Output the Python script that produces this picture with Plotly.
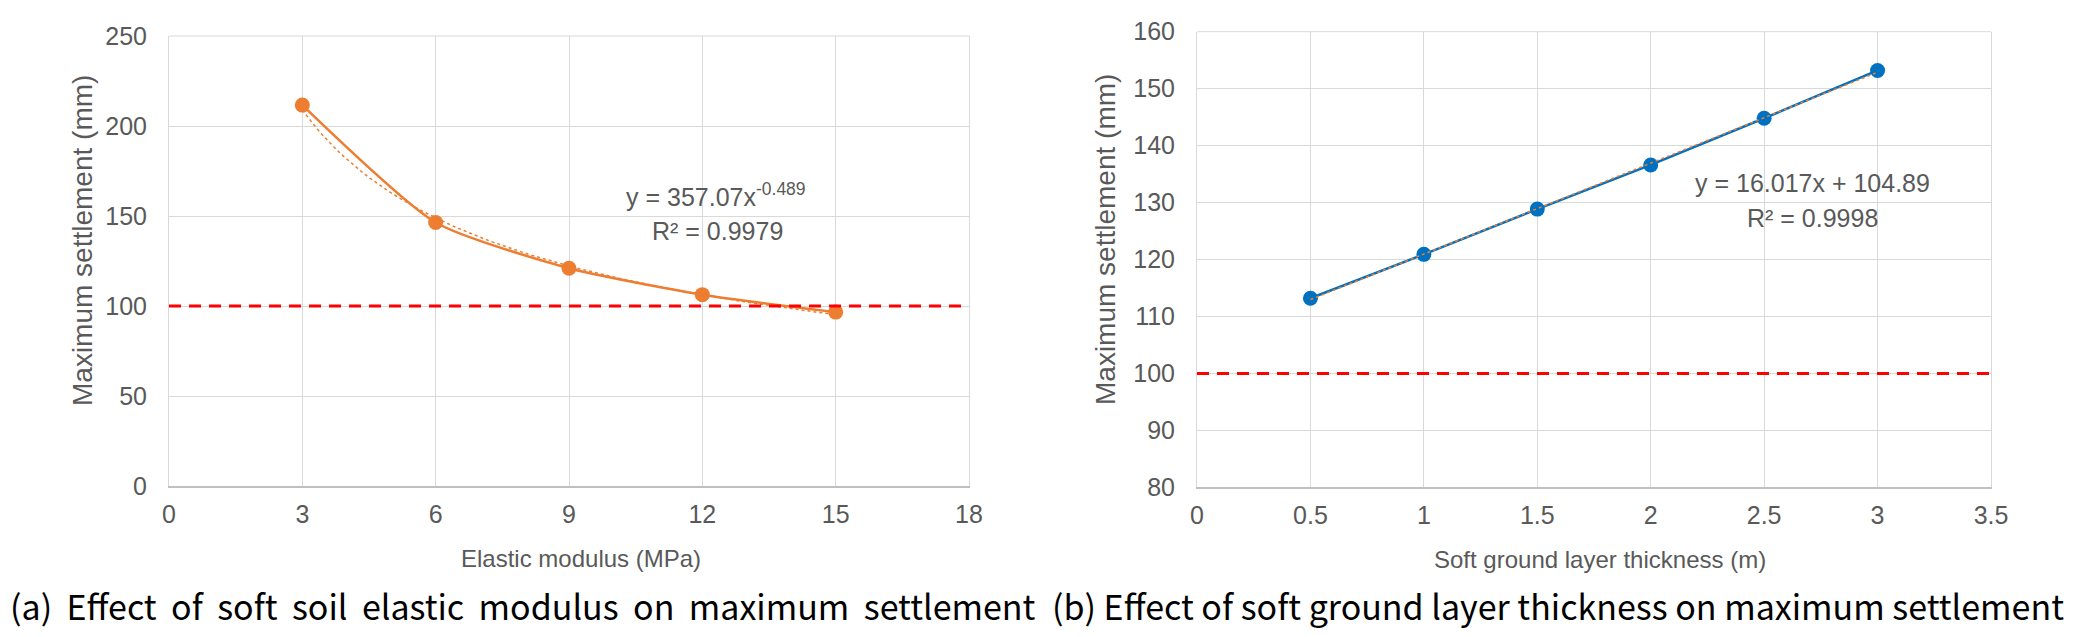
import numpy as np
import plotly.graph_objects as go

# ---------------- data ----------------
modulus_mpa = [3, 6, 9, 12, 15]
settle_a_mm = [211.6, 146.4, 121.0, 106.3, 96.6]

thickness_m = [0.5, 1.0, 1.5, 2.0, 2.5, 3.0]
settle_b_mm = [113.2, 120.9, 128.85, 136.6, 144.8, 153.2]

limit_mm = 100

eq_a = "y = 357.07x<sup>-0.489</sup>"
r2_a = "R² = 0.9979"
eq_b = "y = 16.017x + 104.89"
r2_b = "R² = 0.9998"

caption_a = "(a) Effect of soft soil elastic modulus on maximum settlement"
caption_b = "(b) Effect of soft ground layer thickness on maximum settlement"

ORANGE = "#ED7D31"
BLUE = "#0070C0"
GRAY_TXT = "#595959"
GRID = "#D9D9D9"
AXLINE = "#BFBFBF"
TICKFONT = dict(family="Liberation Sans, Arial, sans-serif", size=25, color=GRAY_TXT)

W, H = 2076, 637

# trendlines fitted from the data
xa = np.array(modulus_mpa, float)
ya = np.array(settle_a_mm, float)
pa = np.polyfit(np.log(xa), np.log(ya), 1)
xa_fit = np.linspace(xa.min(), xa.max(), 80)
ya_fit = np.exp(pa[1]) * xa_fit ** pa[0]

xb = np.array(thickness_m, float)
yb = np.array(settle_b_mm, float)
pb = np.polyfit(xb, yb, 1)
xb_fit = np.array([xb.min(), xb.max()])
yb_fit = np.polyval(pb, xb_fit)

fig = go.Figure()

# ---- panel (a)
fig.add_trace(go.Scatter(x=modulus_mpa, y=settle_a_mm, mode="lines+markers",
                         line=dict(color=ORANGE, width=2.5, shape="spline", smoothing=0.6),
                         marker=dict(color=ORANGE, size=15), xaxis="x", yaxis="y",
                         showlegend=False, hoverinfo="skip"))
fig.add_trace(go.Scatter(x=xa_fit, y=ya_fit, mode="lines",
                         line=dict(color=ORANGE, width=1.5, dash="dot"),
                         xaxis="x", yaxis="y", showlegend=False, hoverinfo="skip"))
fig.add_trace(go.Scatter(x=[0, 18], y=[limit_mm, limit_mm], mode="lines",
                         line=dict(color="#FF0000", width=3, dash="12px,8px"),
                         xaxis="x", yaxis="y", showlegend=False, hoverinfo="skip"))

# ---- panel (b)
fig.add_trace(go.Scatter(x=thickness_m, y=settle_b_mm, mode="lines+markers",
                         line=dict(color=BLUE, width=2.5),
                         marker=dict(color=BLUE, size=15), xaxis="x2", yaxis="y2",
                         showlegend=False, hoverinfo="skip"))
fig.add_trace(go.Scatter(x=xb_fit, y=yb_fit, mode="lines",
                         line=dict(color=ORANGE, width=1.5, dash="dot"),
                         xaxis="x2", yaxis="y2", showlegend=False, hoverinfo="skip"))
fig.add_trace(go.Scatter(x=[0, 3.5], y=[limit_mm, limit_mm], mode="lines",
                         line=dict(color="#FF0000", width=3, dash="12px,8px"),
                         xaxis="x2", yaxis="y2", showlegend=False, hoverinfo="skip"))

def xax(domain, rng, dtick, anchor):
    return dict(domain=domain, range=rng, dtick=dtick, tick0=0, anchor=anchor,
                showgrid=True, gridcolor=GRID, gridwidth=1, zeroline=False,
                showline=True, linecolor=AXLINE, linewidth=1.5, mirror=False,
                ticks="", tickfont=TICKFONT, ticklabelstandoff=5, fixedrange=True,
                automargin=False)

def yax(domain, rng, dtick, anchor):
    return dict(domain=domain, range=rng, dtick=dtick, tick0=0, anchor=anchor,
                showgrid=True, gridcolor=GRID, gridwidth=1, zeroline=False,
                showline=True, linecolor=GRID, linewidth=1, mirror=True,
                ticks="", tickfont=TICKFONT, ticklabelstandoff=16, fixedrange=True,
                automargin=False)

fig.update_layout(
    width=W, height=H, margin=dict(l=0, r=0, t=0, b=0, pad=0, autoexpand=False),
    paper_bgcolor="white", plot_bgcolor="white",
    xaxis=xax([169 / W, 969 / W], [0, 18], 3, "y"),
    yaxis=yax([1 - 486 / H, 1 - 36 / H], [0, 250], 50, "x"),
    xaxis2=xax([1197 / W, 1991 / W], [0, 3.5], 0.5, "y2"),
    yaxis2=yax([1 - 487.3 / H, 1 - 31.7 / H], [80, 160], 10, "x2"),
)

# top border lines of plot areas
for xr, yr in (("x domain", "y domain"), ("x2 domain", "y2 domain")):
    fig.add_shape(type="line", xref=xr, yref=yr, x0=0, x1=1, y0=1, y1=1,
                  line=dict(color=GRID, width=1), layer="below")

ann_font = dict(family="Liberation Sans, Arial, sans-serif", size=25, color=GRAY_TXT)
title_font = dict(family="Liberation Sans, Arial, sans-serif", size=24, color=GRAY_TXT)
ytitle_font = dict(family="Liberation Sans, Arial, sans-serif", size=28, color=GRAY_TXT)
cap_font = dict(family="Noto Sans CJK KR, Noto Sans, sans-serif", size=34, color="black")

def ann(text, x, y, font, angle=0):
    fig.add_annotation(text=text, x=x / W, y=1 - y / H, xref="paper", yref="paper",
                       xanchor="center", yanchor="middle", showarrow=False,
                       font=font, textangle=angle)

ann(eq_a, 716, 195, ann_font)
ann(r2_a, 717, 231, ann_font)
ann(eq_b, 1812, 183, ann_font)
ann(r2_b, 1812, 218, ann_font)

ann("Elastic modulus (MPa)", 581, 558, title_font)
ann("Soft ground layer thickness (m)", 1600, 559, title_font)
ann("Maximum settlement (mm)", 83, 241, ytitle_font, -90)
ann("Maximum settlement (mm)", 1105, 240, ytitle_font, -90)

# justified captions: widen the word gaps a little
ann(caption_a.replace(" ", " \u2009"), 523, 605, cap_font)
ann(caption_b, 1558, 605, cap_font)

fig.write_html("out.html")
